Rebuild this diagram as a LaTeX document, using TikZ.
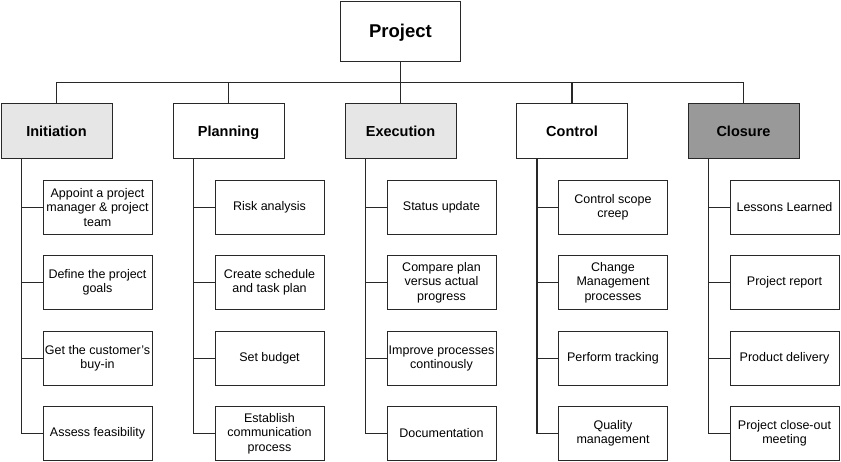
\documentclass[tikz,border=0pt]{standalone}
\usepackage{fontspec}
\setmainfont{Liberation Sans}
\usepackage{tikz}
\definecolor{phasegray}{RGB}{230,230,230}
\definecolor{closegray}{RGB}{153,153,153}
\definecolor{linegray}{RGB}{40,40,40}

\begin{document}
\begin{tikzpicture}[x=1pt,y=-1pt,
  box/.style={draw=linegray, line width=0.9pt, fill=white, align=center, inner sep=1pt},
  top/.style={box, minimum width=120pt, minimum height=60pt, text height=12.6pt, text depth=0pt, font=\bfseries\fontsize{18.5}{22}\selectfont},
  phase/.style={box, minimum width=111pt, minimum height=55pt, text height=13pt, text depth=0pt, font=\bfseries\fontsize{14.5}{17}\selectfont},
  task/.style={box, minimum width=109pt, minimum height=54pt, font=\fontsize{12.5}{14.5}\selectfont},
  trunk/.style={draw=linegray, line width=1.7pt},
  branch/.style={draw=linegray, line width=1.1pt}]
\useasboundingbox (0,0) rectangle (841,462);

% project and phases
\node[top] (proj) at (400.5,31) {Project};
\node[phase, fill=phasegray] (init) at (56.5,130.5) {Initiation};
\node[phase] (plan) at (228.5,130.5) {Planning};
\node[phase, fill=phasegray] (exec) at (400.5,130.5) {Execution};
\node[phase] (ctrl) at (572,130.5) {Control};
\node[phase, fill=closegray] (clos) at (743.5,130.5) {Closure};

\coordinate (bus) at (0,82.5);
\draw[branch] (proj.south) -- (proj.south |- bus);
\draw[branch] (init.north) |- (clos.north |- bus) -- (clos.north);
\draw[branch] (plan.north) -- (plan.north |- bus);
\draw[branch] (exec.north) -- (exec.north |- bus);
\draw[branch] (ctrl.north) -- (ctrl.north |- bus);

% initiation
\node[task] (i1) at (97.5,207.5) {Appoint a project\\manager \& project\\team};
\node[task] (i2) at (97.5,282.5) {Define the project\\goals};
\node[task] (i3) at (97.5,358.5) {Get the customer's\\buy-in};
\node[task] (i4) at (97.5,433.5) {Assess feasibility};

% planning
\node[task] (p1) at (269.5,207.5) {Risk analysis};
\node[task] (p2) at (269.5,282.5) {Create schedule\\and task plan};
\node[task] (p3) at (269.5,358.5) {Set budget};
\node[task] (p4) at (269.5,433.5) {Establish\\communication\\process};

% execution
\node[task] (e1) at (441.5,207.5) {Status update};
\node[task] (e2) at (441.5,282.5) {Compare plan\\versus actual\\progress};
\node[task] (e3) at (441.5,358.5) {Improve processes\\continously};
\node[task] (e4) at (441.5,433.5) {Documentation};

% control
\node[task] (c1) at (613,207.5) {Control scope\\creep};
\node[task] (c2) at (613,282.5) {Change\\Management\\processes};
\node[task] (c3) at (613,358.5) {Perform tracking};
\node[task] (c4) at (613,433.5) {Quality\\management};

% closure
\node[task] (l1) at (784.5,207.5) {Lessons Learned};
\node[task] (l2) at (784.5,282.5) {Project report};
\node[task] (l3) at (784.5,358.5) {Product delivery};
\node[task] (l4) at (784.5,433.5) {Project close-out\\meeting};

% trunks
\coordinate (ti) at ([xshift=21pt]init.south west);
\coordinate (tp) at ([xshift=21pt]plan.south west);
\coordinate (te) at ([xshift=21pt]exec.south west);
\coordinate (tc) at ([xshift=21pt]ctrl.south west);
\coordinate (tl) at ([xshift=21pt]clos.south west);

\draw[trunk] (ti) -- (ti |- i4.west);
\draw[trunk] (tp) -- (tp |- p4.west);
\draw[trunk] (te) -- (te |- e4.west);
\draw[trunk] (tc) -- (tc |- c4.west);
\draw[trunk] (tl) -- (tl |- l4.west);

\draw[branch] (ti |- i1.west) -- (i1.west);
\draw[branch] (ti |- i2.west) -- (i2.west);
\draw[branch] (ti |- i3.west) -- (i3.west);
\draw[branch] (ti |- i4.west) -- (i4.west);
\draw[branch] (tp |- p1.west) -- (p1.west);
\draw[branch] (tp |- p2.west) -- (p2.west);
\draw[branch] (tp |- p3.west) -- (p3.west);
\draw[branch] (tp |- p4.west) -- (p4.west);
\draw[branch] (te |- e1.west) -- (e1.west);
\draw[branch] (te |- e2.west) -- (e2.west);
\draw[branch] (te |- e3.west) -- (e3.west);
\draw[branch] (te |- e4.west) -- (e4.west);
\draw[branch] (tc |- c1.west) -- (c1.west);
\draw[branch] (tc |- c2.west) -- (c2.west);
\draw[branch] (tc |- c3.west) -- (c3.west);
\draw[branch] (tc |- c4.west) -- (c4.west);
\draw[branch] (tl |- l1.west) -- (l1.west);
\draw[branch] (tl |- l2.west) -- (l2.west);
\draw[branch] (tl |- l3.west) -- (l3.west);
\draw[branch] (tl |- l4.west) -- (l4.west);

\end{tikzpicture}
\end{document}
